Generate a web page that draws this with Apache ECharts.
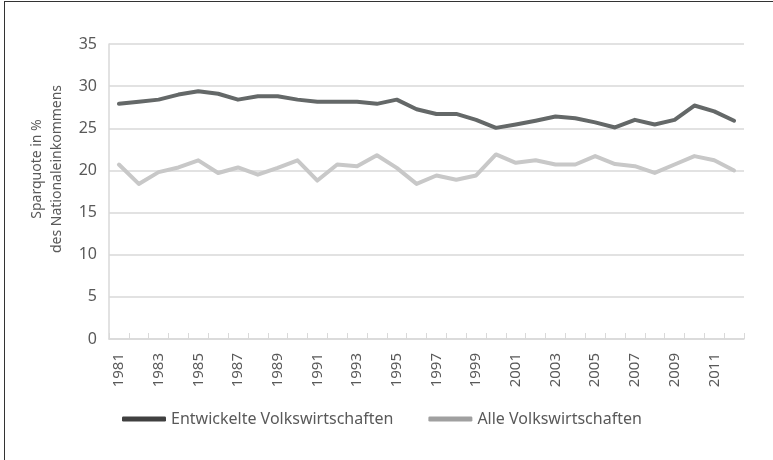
<!DOCTYPE html>
<html>
<head>
<meta charset="utf-8">
<script src="https://cdn.jsdelivr.net/npm/echarts@6/dist/echarts.min.js"></script>
<style>
    html, body { margin: 0; padding: 0; background: #fff; }
    #frame { position: absolute; left: 4px; top: 1px; width: 800px; height: 500px;
             border-left: 1px solid #333; border-top: 1px solid #333; }
    #chart { position: absolute; left: 0; top: 0; width: 773px; height: 460px; }
</style>
</head>
<body>
<div id="frame"></div>
<div id="chart"></div>
<script>
    var years = [];
    for (var y = 1981; y <= 2012; y++) {
        years.push(String(y));
    }

    var entwickelt = [27.9, 28.15, 28.4, 29.0, 29.4, 29.1, 28.4, 28.8, 28.8, 28.4, 28.15, 28.15, 28.15, 27.9, 28.4, 27.25,
        26.7, 26.7, 26.0, 25.05, 25.45, 25.9, 26.4, 26.2, 25.7, 25.1, 26.0, 25.45, 26.0, 27.7, 27.0, 25.9];
    var alle = [20.7, 18.4, 19.8, 20.35, 21.2, 19.7, 20.35, 19.5, 20.3, 21.2, 18.8, 20.7, 20.5, 21.8, 20.3, 18.4,
        19.4, 18.9, 19.4, 21.9, 20.9, 21.2, 20.7, 20.7, 21.7, 20.75, 20.5, 19.7, 20.7, 21.7, 21.2, 20.0];

    var font = 'Noto Sans';
    var textColor = '#595959';
    var gridColor = '#d9d9d9';

    var myChart = echarts.init(document.getElementById('chart'));
    var option = {
        animation: false,
        textStyle: { fontFamily: font },
        grid: { left: 109, right: 29, top: 44, bottom: 121 },
        legend: {
            bottom: 28,
            left: 117,
            icon: 'roundRect',
            itemWidth: 44,
            itemHeight: 5,
            itemGap: 35,
            textStyle: { fontFamily: font, fontSize: 16, color: textColor },
            data: [
                { name: 'Entwickelte Volkswirtschaften', itemStyle: { color: '#404040' } },
                { name: 'Alle Volkswirtschaften', itemStyle: { color: '#a0a0a0' } }
            ]
        },
        graphic: [
            {
                type: 'text',
                x: 47,
                y: 169,
                rotation: Math.PI / 2,
                style: {
                    text: 'Sparquote in %\ndes Nationaleinkommens',
                    fontFamily: font,
                    fontSize: 14,
                    lineHeight: 20,
                    fill: textColor,
                    align: 'center',
                    verticalAlign: 'middle'
                }
            }
        ],
        xAxis: {
            type: 'category',
            data: years,
            boundaryGap: true,
            axisLine: { lineStyle: { color: gridColor, width: 1.5 } },
            axisTick: { show: true, inside: true, interval: 0, length: 6, lineStyle: { color: gridColor } },
            axisLabel: {
                rotate: 90,
                interval: 1,
                margin: 14,
                fontFamily: font,
                fontSize: 15,
                color: textColor
            }
        },
        yAxis: {
            type: 'value',
            min: 0,
            max: 35,
            interval: 5,
            axisLine: { show: true, lineStyle: { color: gridColor, width: 1.5 } },
            axisTick: { show: false },
            splitLine: { lineStyle: { color: gridColor, width: 1.5 } },
            axisLabel: { margin: 12, fontFamily: font, fontSize: 16, color: textColor }
        },
        series: [
            {
                name: 'Entwickelte Volkswirtschaften',
                type: 'line',
                data: entwickelt,
                symbol: 'none',
                itemStyle: { color: '#646868' },
                lineStyle: { color: '#646868', width: 4, join: 'round', cap: 'round' }
            },
            {
                name: 'Alle Volkswirtschaften',
                type: 'line',
                data: alle,
                symbol: 'none',
                itemStyle: { color: '#c8c8c8' },
                lineStyle: { color: '#c8c8c8', width: 4, join: 'round', cap: 'round' }
            }
        ]
    };
    myChart.setOption(option);
</script>
</body>
</html>
